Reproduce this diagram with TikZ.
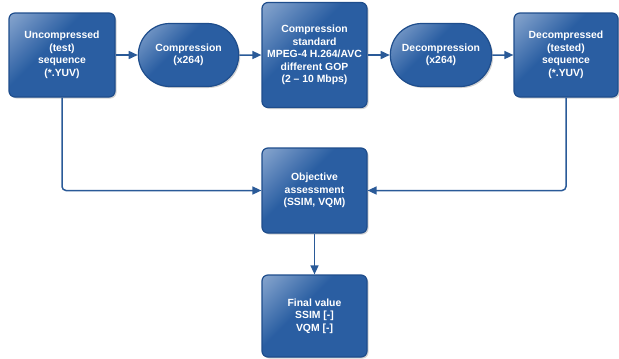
\documentclass[tikz,border=0pt]{standalone}
\usepackage{fontspec}
\setmainfont{Liberation Sans}
\usepackage{tikz}
\usetikzlibrary{arrows.meta}
\usetikzlibrary{shapes.misc}
\usetikzlibrary{shadows}

\definecolor{boxlight}{HTML}{B8C9E0}
\definecolor{boxmid}{HTML}{6F93C3}
\definecolor{boxdark}{HTML}{2A5EA2}
\definecolor{boxedge}{HTML}{1E4D8C}
\definecolor{linkblue}{HTML}{2A5A98}
\pgfdeclarehorizontalshading{boxshade}{100bp}{color(0bp)=(boxlight); color(22bp)=(boxmid); color(42bp)=(boxdark); color(100bp)=(boxdark)}

\begin{document}
\begin{tikzpicture}[x=1pt, y=-1pt,
    block/.style={draw=boxedge, line width=1.2pt, shading=boxshade, shading angle=-45,
        rounded corners=6pt, align=center, text=white,
        font=\bfseries\fontsize{10.4}{12.5}\selectfont,
        drop shadow={shadow xshift=1.5pt, shadow yshift=-1.5pt, opacity=0.35}},
    stadium/.style={block, rounded rectangle, rounded corners=0pt},
    link/.style={draw=linkblue, line width=1.5pt, rounded corners=4pt,
        -{Triangle[length=9pt, width=8pt]}}]

    \useasboundingbox (0,0) rectangle (619,359);

    \node[block, minimum width=106pt, minimum height=84pt] (uncomp) at (62,55)
        {Uncompressed\\(test)\\sequence\\(*.YUV)};
    \node[stadium, minimum width=107pt, minimum height=63pt] (comp) at (188.5,55)
        {Compression\\(x264)};
    \node[block, minimum width=105pt, minimum height=105pt] (std) at (314.5,55)
        {Compression\\standard\\MPEG-4 H.264/AVC\\different GOP\\(2 -- 10 Mbps)};
    \node[stadium, minimum width=108pt, minimum height=63pt] (decomp) at (441,55)
        {Decompression\\(x264)};
    \node[block, minimum width=104pt, minimum height=84pt] (decseq) at (566,55)
        {Decompressed\\(tested)\\sequence\\(*.YUV)};

    \node[block, minimum width=105pt, minimum height=85pt] (assess) at (314.5,190.5)
        {Objective\\assessment\\(SSIM, VQM)};
    \node[block, minimum width=105pt, minimum height=82pt] (final) at (314.5,316)
        {Final value\\SSIM [-]\\VQM [-]};

    \draw[link] (uncomp) -- (comp);
    \draw[link] (comp) -- (std);
    \draw[link] (std) -- (decomp);
    \draw[link] (decomp) -- (decseq);
    \draw[link] (uncomp) |- (assess);
    \draw[link] (decseq) |- (assess);
    \draw[link] (assess) -- (final);
\end{tikzpicture}
\end{document}
